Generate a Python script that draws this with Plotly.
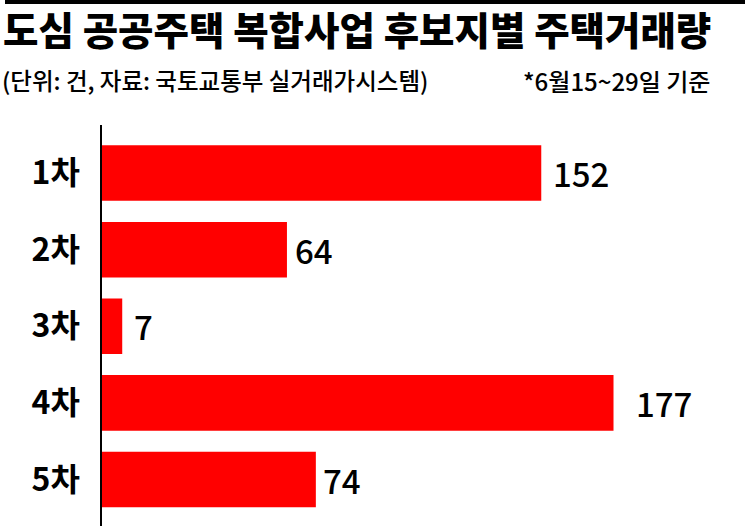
import plotly.graph_objects as go

# data
rounds = ["1차", "2차", "3차", "4차", "5차"]
deals = [152, 64, 7, 177, 74]

title_text = "도심 공공주택 복합사업 후보지별 주택거래량"
unit_text = "(단위: 건, 자료: 국토교통부 실거래가시스템)"
note_text = "*6월15~29일 기준"

# styling
label_gap = [10, 6, 10, 20, 5]
kr_font = "Noto Sans CJK KR, sans-serif"

fig = go.Figure()
fig.add_trace(go.Bar(
    x=deals,
    y=rounds,
    orientation="h",
    marker=dict(color="#ff0000", line=dict(width=0)),
    width=0.725,
    hoverinfo="x+y",
))

# value labels next to each bar
for r, v, g in zip(rounds, deals, label_gap):
    fig.add_annotation(
        x=v, y=r, text=str(v), showarrow=False,
        xanchor="left", yanchor="middle", xshift=g,
        font=dict(family=kr_font, size=33, color="#000000", weight=500),
    )

# header texts
fig.add_annotation(
    x=0, y=1, xref="paper", yref="paper", yshift=97, xshift=-101,
    text=title_text, showarrow=False, xanchor="left", yanchor="middle",
    font=dict(family=kr_font, size=38.5, color="#000000", weight=900),
)
fig.add_annotation(
    x=0, y=1, xref="paper", yref="paper", yshift=45, xshift=-102,
    text=unit_text, showarrow=False, xanchor="left", yanchor="middle",
    font=dict(family=kr_font, size=23.5, color="#000000", weight=500),
)
fig.add_annotation(
    x=1, y=1, xref="paper", yref="paper", yshift=45, xshift=-33,
    text=note_text, showarrow=False, xanchor="right", yanchor="middle",
    font=dict(family=kr_font, size=24, color="#000000", weight=500),
)

# black rule along the top of the page
fig.update_layout(shapes=[dict(
    type="line", xref="paper", yref="paper",
    x0=-97 / 643, x1=1, y0=1 + 123 / 401, y1=1 + 123 / 401,
    line=dict(color="black", width=4),
)])

fig.update_layout(
    width=745, height=526,
    margin=dict(l=102, r=0, t=125, b=0),
    plot_bgcolor="#ffffff", paper_bgcolor="#ffffff",
    showlegend=False,
)
fig.update_xaxes(
    range=[0, 222.5], visible=False, fixedrange=True,
)
fig.update_yaxes(
    categoryorder="array", categoryarray=rounds,
    range=[4.607, -0.627], automargin=False,
    showline=True, linecolor="#000000", linewidth=1.5,
    showgrid=False, zeroline=False, ticks="",
    ticklabelstandoff=14,
    tickfont=dict(family=kr_font, size=32, color="#000000", weight="bold"),
    fixedrange=True,
)

# drop the page's default 8px body margin so the figure sits at 0,0
fig.write_html(
    "out.html",
    config={"displayModeBar": False},
    post_script="document.body.style.margin='0';",
)
